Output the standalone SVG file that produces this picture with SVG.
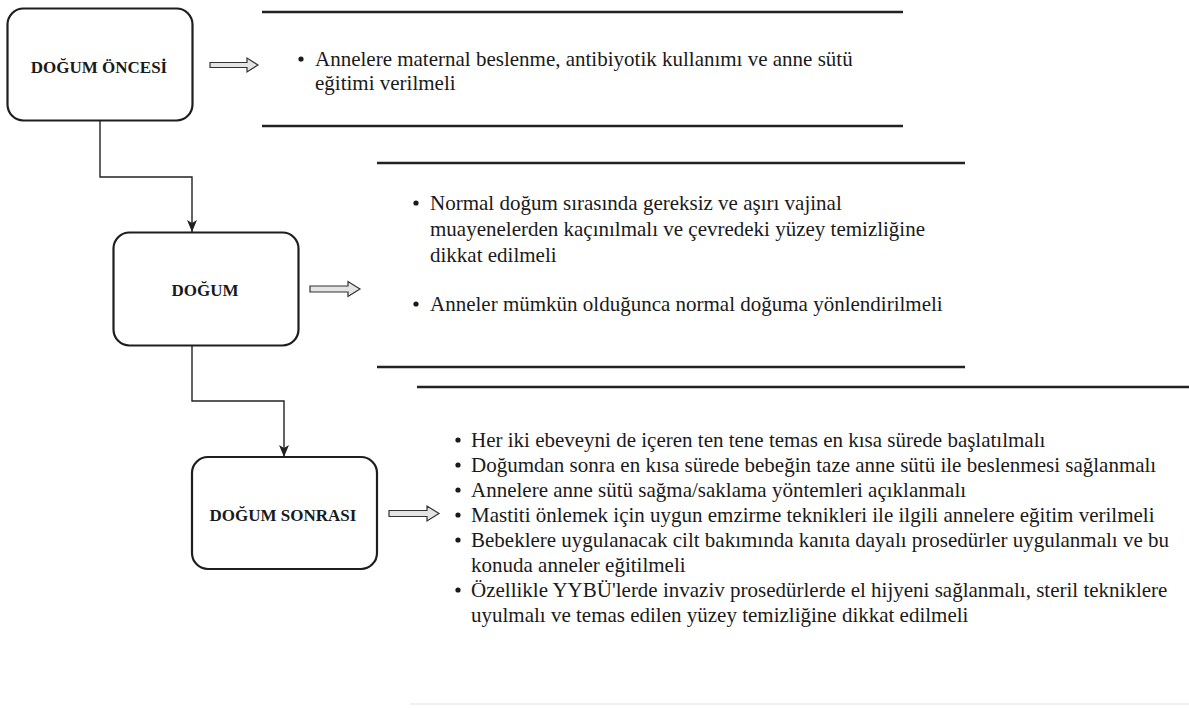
<svg xmlns="http://www.w3.org/2000/svg" width="1189" height="708" viewBox="0 0 1189 708">
<style>
.box{fill:#fff;stroke:#1e1e1e;stroke-width:2.2}
.lbl{font-family:"Liberation Serif","Times New Roman",serif;font-weight:bold;font-size:17px;fill:#1a1a1a;text-anchor:middle}
.txt{font-family:"Liberation Serif","Times New Roman",serif;font-size:21px;fill:#1a1a1a}
.rule{stroke:#222;stroke-width:2.6}
.con{fill:none;stroke:#222;stroke-width:1.4}
.harrow{fill:#e4e4e4;stroke:#333;stroke-width:1.2;stroke-linejoin:miter}
.dot{fill:#1a1a1a}
</style>
<defs>
<marker id="ah" markerWidth="12" markerHeight="10" refX="12" refY="5" orient="auto" markerUnits="userSpaceOnUse" viewBox="0 0 12 10">
<path d="M0,0 L12,5 L0,10 L3,5 Z" fill="#222"/>
</marker>
</defs>
<rect width="1189" height="708" fill="#fff"/>

<g id="connectors">
<path class="con" d="M100,121 V177 H192 V232" marker-end="url(#ah)"/>
<path class="con" d="M192,346 V401 H284 V457" marker-end="url(#ah)"/>
<path class="harrow" d="M210,62.5 H247 V58 L258,65 L247,72 V67.5 H210 Z"/>
<path class="harrow" d="M310,286 H348 V281.5 L360,289 L348,296.5 V292 H310 Z"/>
<path class="harrow" d="M389,510.5 H427 V506 L439,513.5 L427,521 V516.5 H389 Z"/>
</g>

<g id="node-dogum-oncesi">
<rect class="box" x="7.5" y="8.5" width="185" height="112" rx="16"/>
<text class="lbl" x="99" y="73">DOĞUM ÖNCESİ</text>
</g>
<g id="node-dogum">
<rect class="box" x="113.5" y="232.5" width="185" height="113" rx="16"/>
<text class="lbl" x="205" y="296">DOĞUM</text>
</g>
<g id="node-dogum-sonrasi">
<rect class="box" x="192" y="457" width="185" height="112" rx="16"/>
<text class="lbl" x="283" y="521">DOĞUM SONRASI</text>
</g>

<g id="panel-1">
<line class="rule" x1="262" y1="12" x2="903" y2="12"/>
<line class="rule" x1="262" y1="126" x2="903" y2="126"/>
<circle class="dot" cx="301" cy="59" r="2.6"/>
<text class="txt" x="315" y="66">Annelere maternal beslenme, antibiyotik kullanımı ve anne sütü</text>
<text class="txt" x="315" y="90">eğitimi verilmeli</text>
</g>

<g id="panel-2">
<line class="rule" x1="377" y1="163" x2="965" y2="163"/>
<line class="rule" x1="377" y1="367" x2="965" y2="367"/>
<circle class="dot" cx="416" cy="203" r="2.6"/>
<text class="txt" x="430" y="210">Normal doğum sırasında gereksiz ve aşırı vajinal</text>
<text class="txt" x="430" y="236">muayenelerden kaçınılmalı ve çevredeki yüzey temizliğine</text>
<text class="txt" x="430" y="262">dikkat edilmeli</text>
<circle class="dot" cx="416" cy="304" r="2.6"/>
<text class="txt" x="430" y="311">Anneler mümkün olduğunca normal doğuma yönlendirilmeli</text>
</g>

<g id="panel-3">
<line class="rule" x1="417" y1="387" x2="1189" y2="387"/>
<line x1="410" y1="704" x2="1189" y2="704" stroke="#ececec" stroke-width="1.5"/>
<circle class="dot" cx="458" cy="440" r="2.6"/>
<text class="txt" x="471" y="447">Her iki ebeveyni de içeren ten tene temas en kısa sürede başlatılmalı</text>
<circle class="dot" cx="458" cy="465" r="2.6"/>
<text class="txt" x="471" y="472">Doğumdan sonra en kısa sürede bebeğin taze anne sütü ile beslenmesi sağlanmalı</text>
<circle class="dot" cx="458" cy="490" r="2.6"/>
<text class="txt" x="471" y="497">Annelere anne sütü sağma/saklama yöntemleri açıklanmalı</text>
<circle class="dot" cx="458" cy="515" r="2.6"/>
<text class="txt" x="471" y="522">Mastiti önlemek için uygun emzirme teknikleri ile ilgili annelere eğitim verilmeli</text>
<circle class="dot" cx="458" cy="540" r="2.6"/>
<text class="txt" x="471" y="547">Bebeklere uygulanacak cilt bakımında kanıta dayalı prosedürler uygulanmalı ve bu</text>
<text class="txt" x="471" y="572">konuda anneler eğitilmeli</text>
<circle class="dot" cx="458" cy="590" r="2.6"/>
<text class="txt" x="471" y="597">Özellikle YYBÜ'lerde invaziv prosedürlerde el hijyeni sağlanmalı, steril tekniklere</text>
<text class="txt" x="471" y="622">uyulmalı ve temas edilen yüzey temizliğine dikkat edilmeli</text>
</g>
</svg>
